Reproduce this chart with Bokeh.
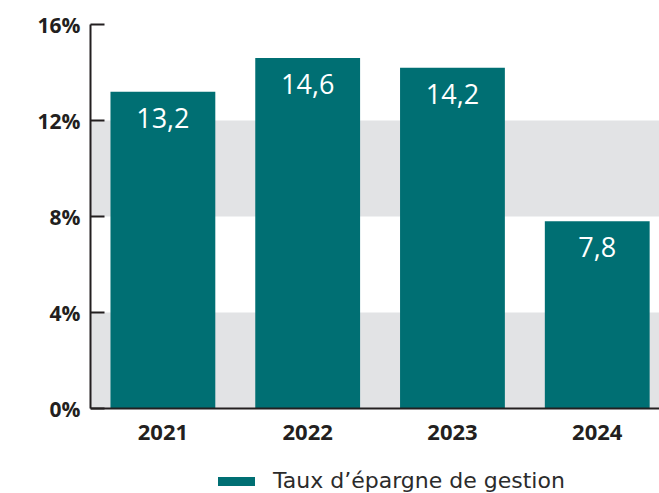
from bokeh.plotting import figure
from bokeh.models import (ColumnDataSource, FixedTicker, Range1d, BoxAnnotation,
                          Legend, LegendItem, Span)
from bokeh.core.properties import value
from bokeh.embed import file_html
from bokeh.resources import INLINE

# ---- data ----
years = ["2021", "2022", "2023", "2024"]
rates = [13.2, 14.6, 14.2, 7.8]
y_ticks = [0, 4, 8, 12, 16]
y_tick_labels = ["0%", "4%", "8%", "12%", "16%"]
bands = [(0, 4), (8, 12)]
series_name = "Taux d\u2019épargne de gestion"

TEAL = "#006f73"
GREY = "#e2e3e5"
DARK = "#231f20"
FONT = "Open Sans"

xs = list(range(len(years)))
labels = [f"{v:.1f}".replace(".", ",") for v in rates]
src = ColumnDataSource(dict(x=xs, top=rates, label=labels))
ysrc = ColumnDataSource(dict(x=xs, y=[0] * len(xs), label=years))

# frame spans down to the bottom so the legend can sit under the x axis
p = figure(width=659, height=493, output_backend="svg", toolbar_location=None,
           x_range=Range1d(-0.5, 3.43), y_range=Range1d(-3.54, 16),
           min_border_left=90, min_border_right=0, min_border_top=24,
           min_border_bottom=0)
p.outline_line_color = None
p.xgrid.visible = False
p.ygrid.visible = False
p.background_fill_color = "white"
p.border_fill_color = "white"
p.xaxis.visible = False

for b, t in bands:
    p.add_layout(BoxAnnotation(bottom=b, top=t, fill_color=GREY, fill_alpha=1,
                               line_color=None, level="underlay"))

p.vbar(x="x", top="top", width=0.724, bottom=0, source=src,
       fill_color=TEAL, line_color=None)

p.text(x="x", y="top", text="label", source=src, y_offset=26,
       text_align="center", text_baseline="middle", text_color="white",
       text_font=value(FONT), text_font_size="27px")

# x axis line and category labels
p.add_layout(Span(location=0, dimension="width", line_color=DARK, line_width=2))
p.text(x="x", y="y", text="label", source=ysrc, y_offset=24,
       text_align="center", text_baseline="middle", text_color=DARK,
       text_font=value(FONT), text_font_style="bold", text_font_size="22px")

# y axis
ya = p.yaxis[0]
ya.bounds = (0, 16)
ya.ticker = FixedTicker(ticks=y_ticks)
ya.major_label_overrides = {t: l for t, l in zip(y_ticks, y_tick_labels)}
ya.major_tick_in = 14
ya.major_tick_out = 0
ya.minor_tick_line_color = None
ya.axis_line_color = DARK
ya.axis_line_width = 2
ya.major_tick_line_color = DARK
ya.major_tick_line_width = 2
ya.major_label_text_font = FONT
ya.major_label_text_font_style = "bold"
ya.major_label_text_font_size = "21px"
ya.major_label_text_color = DARK
ya.major_label_standoff = 10

# legend (line with a single NaN point: draws nothing in the plot)
nan = float("nan")
dummy = p.line(x=[nan], y=[nan], line_color=TEAL, line_width=9, line_cap="round")
legend = Legend(items=[LegendItem(label=series_name, renderers=[dummy])],
                location=(128, 0), orientation="horizontal",
                glyph_width=37, glyph_height=20, label_standoff=18,
                label_text_font="DejaVu Sans", label_text_font_size="22px",
                label_text_color="#2b2b2b", border_line_color=None,
                background_fill_alpha=0, padding=0, margin=0, spacing=0)
p.add_layout(legend, "center")

open("out.html", "w").write(file_html(p, INLINE))
